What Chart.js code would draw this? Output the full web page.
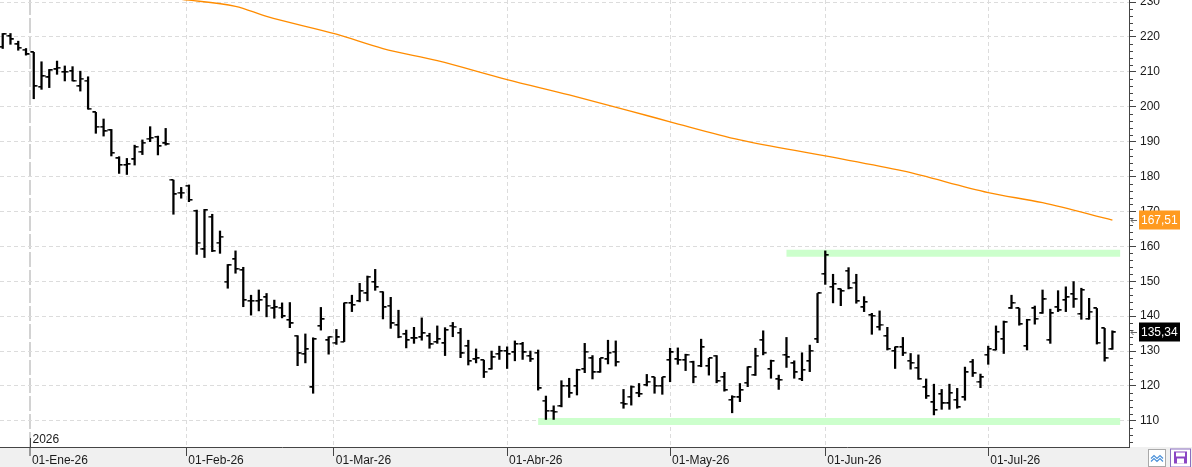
<!DOCTYPE html>
<html>
<head>
<meta charset="utf-8" />
<title>OHLC diario</title>
<script src="https://cdn.jsdelivr.net/npm/chart.js@4.4.1/dist/chart.umd.min.js"></script>
<style>
  html, body { margin: 0; padding: 0; background: #fff; }
  #wrap { position: relative; width: 1192px; height: 467px; }
</style>
</head>
<body>
<div id="wrap"><canvas id="chart"></canvas></div>
<script>
const FONT = "'Liberation Sans', Arial, sans-serif";
const meses = ['Ene', 'Feb', 'Mar', 'Abr', 'May', 'Jun', 'Jul', 'Ago', 'Sep', 'Oct', 'Nov', 'Dic'];

// sesiones: del 26-dic-25 al 24-jul-26, sin fines de semana ni festivos
const firstSession = '2025-12-26';
const lastSession = '2026-07-24';
const festivos = ['2026-01-01', '2026-01-19', '2026-02-16', '2026-04-03', '2026-05-25', '2026-06-19', '2026-07-03'];
const monthStarts = ['2026-01-01', '2026-02-01', '2026-03-01', '2026-04-01', '2026-05-01', '2026-06-01', '2026-07-01'];

const opens = [
  217.2, 220.3, 217.9, 216.4, 215.6, 205.7, 208.4, 210.7, 210.0, 210.2,
  205.9, 207.5, 198.4, 194.3, 193.3, 185.2, 183.3, 184.9, 187.1, 190.9,
  191.4, 189.5, 179.0, 175.4, 177.4, 170.2, 159.1, 168.5, 161.1, 149.9,
  156.3, 153.2, 144.4, 144.4, 145.4, 142.2, 142.4, 138.9, 134.4, 129.1,
  119.6, 137.2, 133.1, 132.4, 132.7, 143.7, 144.3, 146.5, 149.8, 147.0,
  143.0, 137.4, 134.8, 133.6, 133.9, 134.3, 132.6, 132.2, 137.3, 135.2,
  131.4, 127.6, 127.4, 124.8, 129.1, 130.0, 129.6, 132.0, 128.6, 129.5,
  115.8, 112.9, 114.2, 120.0, 120.0, 124.8, 127.9, 123.9, 127.6, 129.8,
  115.2, 116.9, 117.9, 120.3, 122.5, 120.0, 127.4, 127.6, 127.4, 126.8,
  125.7, 125.7, 128.7, 122.5, 116.0, 116.7, 120.9, 123.1, 133.1, 124.8,
  121.9, 128.9, 126.5, 121.9, 127.1, 133.4, 152.1, 148.4, 147.7, 153.0,
  149.6, 142.5, 140.3, 136.8, 134.3, 130.0, 131.1, 127.2, 125.2, 119.6,
  115.3, 117.7, 115.0, 116.0, 116.7, 126.9, 121.2, 128.9, 130.3, 133.4,
  142.2, 142.2, 131.4, 142.2, 140.8, 133.1, 142.5, 144.6, 146.3, 140.6,
  139.2, 142.2, 136.5, 130.5
];
const highs = [
  221.0, 221.0, 218.8, 216.7, 215.6, 212.9, 210.7, 213.1, 211.7, 211.5,
  210.2, 208.6, 198.4, 196.5, 193.5, 185.7, 185.2, 189.0, 190.5, 194.3,
  191.6, 193.8, 179.0, 176.9, 177.6, 170.4, 170.6, 169.2, 164.4, 154.8,
  158.7, 154.0, 146.0, 147.5, 146.5, 144.6, 143.8, 143.9, 134.4, 134.9,
  133.8, 142.5, 134.1, 136.2, 143.8, 146.0, 149.4, 151.5, 153.4, 147.0,
  145.4, 141.7, 136.0, 136.8, 139.5, 135.1, 137.2, 136.7, 138.2, 136.5,
  133.1, 130.6, 127.4, 130.0, 131.4, 131.2, 132.9, 132.5, 130.0, 130.3,
  117.1, 114.3, 121.5, 122.2, 124.8, 132.2, 128.7, 127.9, 133.1, 132.9,
  119.0, 120.0, 120.7, 123.3, 122.5, 122.5, 130.8, 130.9, 129.1, 127.1,
  133.4, 127.9, 128.7, 123.9, 117.2, 120.7, 125.5, 130.8, 135.8, 127.4,
  123.1, 133.9, 127.2, 129.5, 131.7, 146.5, 158.7, 152.0, 147.8, 153.9,
  152.0, 145.6, 140.8, 141.5, 136.8, 131.2, 133.9, 129.3, 128.9, 122.0,
  120.5, 119.0, 120.5, 119.3, 125.4, 127.6, 123.4, 131.4, 137.2, 138.6,
  146.0, 142.2, 139.1, 142.9, 147.5, 142.0, 147.3, 148.4, 149.9, 148.0,
  145.1, 142.2, 136.5, 135.8
];
const lows = [
  216.7, 217.9, 216.2, 214.8, 202.3, 205.0, 205.5, 209.3, 207.4, 207.4,
  204.5, 199.3, 192.4, 191.6, 185.9, 180.9, 180.6, 183.3, 186.3, 190.0,
  186.2, 189.0, 169.2, 173.8, 172.8, 157.7, 156.8, 158.5, 158.0, 148.0,
  152.3, 142.7, 140.3, 141.5, 139.8, 139.4, 139.5, 136.7, 125.8, 126.6,
  117.9, 136.0, 129.1, 131.9, 132.7, 141.3, 144.1, 144.4, 147.4, 139.2,
  136.5, 133.8, 130.9, 132.2, 133.1, 130.8, 132.2, 128.7, 134.1, 128.1,
  126.0, 126.6, 122.4, 124.8, 127.6, 125.0, 127.2, 127.6, 127.0, 118.8,
  110.4, 110.4, 114.0, 116.7, 117.4, 123.8, 122.0, 123.9, 126.3, 125.7,
  113.6, 114.5, 116.9, 120.0, 117.9, 117.6, 121.2, 126.2, 124.4, 120.9,
  125.5, 123.1, 120.9, 118.5, 112.3, 115.5, 119.8, 123.0, 128.9, 122.2,
  119.0, 125.3, 122.2, 121.5, 124.1, 132.4, 149.1, 143.8, 143.0, 147.8,
  143.7, 141.3, 134.8, 136.0, 130.3, 125.0, 128.7, 124.8, 121.9, 116.4,
  111.7, 113.3, 113.3, 113.6, 115.9, 122.7, 119.5, 126.2, 130.3, 129.3,
  142.2, 137.4, 130.3, 137.7, 140.8, 132.2, 141.3, 141.3, 142.5, 139.1,
  139.1, 132.0, 127.1, 130.5
];
const closes = [
  220.8, 219.3, 216.9, 215.0, 205.9, 208.8, 210.5, 211.2, 210.0, 207.4,
  208.1, 199.5, 194.3, 193.0, 186.8, 183.3, 183.5, 188.5, 189.7, 191.1,
  188.7, 189.2, 174.9, 175.4, 173.3, 161.1, 170.4, 158.7, 162.8, 154.6,
  153.5, 144.6, 144.4, 144.6, 143.0, 142.5, 139.9, 137.9, 129.3, 130.5,
  133.4, 139.1, 134.1, 133.9, 143.8, 143.2, 147.2, 151.3, 148.3, 142.5,
  137.9, 134.1, 133.1, 133.6, 135.1, 131.9, 133.4, 136.0, 137.0, 129.3,
  127.1, 127.9, 124.1, 128.2, 130.0, 129.1, 132.0, 129.6, 127.7, 119.3,
  112.9, 112.6, 120.0, 117.9, 124.6, 129.8, 123.9, 127.9, 129.5, 126.8,
  114.7, 119.8, 117.7, 121.2, 120.0, 122.5, 129.6, 127.4, 128.9, 122.6,
  131.1, 127.9, 121.4, 118.8, 116.9, 118.8, 125.3, 128.7, 129.5, 127.1,
  121.7, 128.2, 123.9, 124.6, 130.1, 146.5, 157.5, 149.2, 147.2, 148.0,
  144.3, 144.0, 140.1, 137.6, 130.6, 131.1, 129.5, 126.6, 122.0, 117.1,
  113.1, 115.0, 118.0, 113.9, 123.9, 123.6, 122.5, 130.6, 135.5, 138.2,
  143.8, 137.7, 138.9, 139.2, 144.8, 140.8, 141.7, 145.4, 144.8, 147.5,
  141.3, 132.4, 127.9, 135.34
];

const maBar = [23, 30, 34, 43, 49, 56, 65, 73, 83, 86, 95, 106, 116, 127, 134, 143];
const maValue = [230.8, 228.8, 225.9, 220.8, 216.7, 213.2, 207.8, 203.4, 197.5, 195.7, 190.5, 185.9, 181.6, 175.4, 172.5, 167.51];

// resistencia y soporte (nivel, sesión inicial, sesión final)
const bandLevel = [158.0, 109.8];
const bandFrom = [101, 69];
const bandTo = [144, 144];

function buildSessions() {
  const out = [];
  const d = new Date(firstSession + 'T12:00:00Z');
  const end = new Date(lastSession + 'T12:00:00Z');
  while (d <= end) {
    const iso = d.toISOString().slice(0, 10);
    const wd = d.getUTCDay();
    if (wd !== 0 && wd !== 6 && !festivos.includes(iso)) out.push(iso);
    d.setUTCDate(d.getUTCDate() + 1);
  }
  return out;
}
const dates = buildSessions();
const ts = s => Date.parse(s + 'T12:00:00Z');

// posición de cada primero de mes entre sesiones
const monthPos = monthStarts.map(m => {
  const t = ts(m);
  const next = dates.findIndex(s => ts(s) >= t);
  const tn = ts(dates[next]);
  if (tn === t) return next;
  const tp = ts(dates[next - 1]);
  return next - 1 + (t - tp) / (tn - tp);
});
const monthLabels = monthStarts.map(m => {
  const [yy, mm] = m.split('-');
  return '01-' + meses[+mm - 1] + '-' + yy.slice(2);
});
const isYearStart = i => monthStarts[i] && monthStarts[i].slice(5, 7) === '01';

function tickImg(side) {
  const c = document.createElement('canvas');
  c.width = 8; c.height = 2;
  const g = c.getContext('2d');
  g.fillStyle = '#000';
  g.fillRect(side === 'left' ? 0.5 : 4, 0, 3.5, 1.6);
  return c;
}

const fmt = v => v.toFixed(2).replace('.', ',');

const extras = {
  id: 'extras',
  beforeDraw(chart) {
    const { ctx, width, height, chartArea } = chart;
    ctx.save();
    ctx.fillStyle = '#fff';
    ctx.fillRect(0, 0, width, height);
    ctx.fillStyle = '#f0f0f0';
    ctx.fillRect(0, chartArea.bottom, width, height - chartArea.bottom);
    ctx.restore();
  },
  afterDraw(chart) {
    const { ctx, chartArea, scales: { x, y } } = chart;
    ctx.save();
    // marcas menores del eje de precios
    ctx.strokeStyle = '#444';
    ctx.lineWidth = 1;
    y.ticks.forEach(t => {
      if (t.value % 10 === 0) return;
      const py = Math.round(y.getPixelForValue(t.value)) + 0.5;
      ctx.beginPath();
      ctx.moveTo(chartArea.right, py);
      ctx.lineTo(chartArea.right + 4, py);
      ctx.stroke();
    });

    // año
    ctx.font = '12px ' + FONT;
    monthPos.forEach((p, i) => {
      if (!isYearStart(i)) return;
      const px = Math.round(x.getPixelForValue(p)) + 0.5;
      ctx.strokeStyle = '#444';
      ctx.beginPath();
      ctx.moveTo(px, chartArea.bottom - 9);
      ctx.lineTo(px, chartArea.bottom);
      ctx.stroke();
      ctx.fillStyle = '#1a1a1a';
      ctx.textBaseline = 'alphabetic';
      ctx.textAlign = 'left';
      ctx.fillText(monthStarts[i].slice(0, 4), px + 2, chartArea.bottom - 4);
    });

    // etiquetas de último valor
    function badge(val, bg) {
      const py = y.getPixelForValue(val);
      const bx = chartArea.right + 10;
      const txt = fmt(val);
      const w = Math.max(39, Math.ceil(ctx.measureText(txt).width) + 4);
      ctx.fillStyle = bg;
      ctx.fillRect(bx, Math.round(py) - 9.5, w, 19);
      ctx.fillStyle = '#fff';
      ctx.textBaseline = 'middle';
      ctx.textAlign = 'left';
      ctx.fillText(txt, bx + 2, py + 0.5);
      ctx.strokeStyle = '#666';
      ctx.lineWidth = 1;
      const ay = Math.round(py) + 0.5;
      ctx.beginPath();
      ctx.moveTo(chartArea.right + 8, ay);
      ctx.lineTo(chartArea.right + 2, ay);
      ctx.moveTo(chartArea.right + 4.5, ay - 2.5);
      ctx.lineTo(chartArea.right + 2, ay);
      ctx.lineTo(chartArea.right + 4.5, ay + 2.5);
      ctx.stroke();
    }
    badge(maValue[maValue.length - 1], '#ff9a1f');
    badge(closes[closes.length - 1], '#000');

    // botones de la esquina
    const by = chartArea.bottom + 2.5;
    ctx.fillStyle = '#fff';
    ctx.strokeStyle = '#a9a9a9';
    ctx.fillRect(1148.5, by, 17, 17);
    ctx.strokeRect(1148.5, by, 17, 17);
    ctx.strokeStyle = '#4a90d9';
    ctx.lineWidth = 1.2;
    ctx.beginPath();
    ctx.moveTo(1151, by + 9); ctx.lineTo(1154, by + 6); ctx.lineTo(1157, by + 9); ctx.lineTo(1160, by + 6); ctx.lineTo(1163, by + 9);
    ctx.moveTo(1151, by + 12); ctx.lineTo(1154, by + 9); ctx.lineTo(1157, by + 12); ctx.lineTo(1160, by + 9); ctx.lineTo(1163, by + 12);
    ctx.stroke();
    ctx.lineWidth = 1;
    ctx.fillStyle = '#fff';
    ctx.strokeStyle = '#8a6fc0';
    ctx.fillRect(1170.5, by - 0.5, 20, 18);
    ctx.strokeRect(1170.5, by - 0.5, 20, 18);
    ctx.fillStyle = '#8b45c4';
    ctx.fillRect(1174, by + 2, 13, 12);
    ctx.fillStyle = '#fff';
    ctx.fillRect(1176, by + 3, 9, 4);
    ctx.fillRect(1177, by + 9, 7, 5);
    ctx.restore();
  }
};

const axisFont = { family: FONT, size: 12 };

new Chart(document.getElementById('chart'), {
  type: 'bar',
  data: {
    datasets: [
      ...bandLevel.map((lv, k) => ({
        type: 'line',
        data: [{ x: bandFrom[k], y: lv }, { x: bandTo[k], y: lv }],
        borderColor: '#ccffcc',
        borderWidth: 7,
        borderCapStyle: 'butt',
        pointRadius: 0,
        order: 5
      })),
      {
        type: 'line',
        data: maBar.map((b, i) => ({ x: b, y: maValue[i] })),
        borderColor: '#ff8c00',
        borderWidth: 1.3,
        pointRadius: 0,
        cubicInterpolationMode: 'monotone',
        order: 4
      },
      {
        type: 'bar',
        data: highs.map((h, i) => ({ x: i, y: [lows[i], h] })),
        backgroundColor: '#000',
        borderWidth: 0,
        barThickness: 1.6,
        grouped: false,
        order: 3
      },
      {
        type: 'line',
        showLine: false,
        data: opens.map((v, i) => ({ x: i, y: v })),
        pointStyle: tickImg('left'),
        pointRadius: 3,
        order: 2
      },
      {
        type: 'line',
        showLine: false,
        data: closes.map((v, i) => ({ x: i, y: v })),
        pointStyle: tickImg('right'),
        pointRadius: 3,
        order: 1
      }
    ]
  },
  options: {
    responsive: true,
    maintainAspectRatio: false,
    animation: false,
    events: [],
    layout: { padding: 0, autoPadding: false },
    plugins: { legend: { display: false }, tooltip: { enabled: false } },
    scales: {
      x: {
        type: 'linear',
        bounds: 'data',
        min: -0.35,
        max: 145.14,
        offset: false,
        afterBuildTicks: s => { s.ticks = monthPos.map(v => ({ value: v })); },
        afterFit: s => { s.height = 20; s.paddingLeft = 0; s.paddingRight = 0; },
        ticks: {
          autoSkip: false,
          maxRotation: 0,
          align: 'start',
          labelOffset: 2,
          padding: -3,
          color: '#1a1a1a',
          font: axisFont,
          callback: (v, i) => monthLabels[i]
        },
        grid: {
          offset: false,
          color: c => c.type === 'tick' && isYearStart(c.index) ? '#d2d2d2' : '#dcdcdc',
          lineWidth: c => c.type === 'tick' && isYearStart(c.index) ? 2 : 1,
          tickColor: '#444',
          tickWidth: 1,
          tickLength: 9
        },
        border: {
          color: '#444',
          width: 1,
          dash: c => c.type === 'tick' ? (isYearStart(c.index) ? [15, 3] : [4, 3]) : []
        }
      },
      y: {
        position: 'right',
        bounds: 'data',
        min: 102.5,
        max: 230.6,
        afterBuildTicks: s => {
          const t = [];
          for (let v = Math.ceil(s.min / 2) * 2; v <= s.max; v += 2) t.push({ value: v });
          s.ticks = t;
        },
        afterFit: s => { s.width = 63; s.paddingTop = 0; s.paddingBottom = 0; },
        ticks: {
          autoSkip: false,
          padding: 4,
          color: '#1a1a1a',
          font: axisFont,
          callback: v => (v % 10 === 0 ? String(v) : '')
        },
        grid: {
          color: c => c.type === 'tick' && c.tick.value % 10 === 0 ? '#dcdcdc' : 'rgba(0,0,0,0)',
          tickColor: c => c.type === 'tick' && c.tick.value % 10 === 0 ? '#444' : 'rgba(0,0,0,0)',
          tickWidth: 1,
          tickLength: 7
        },
        border: {
          color: '#444',
          width: 1,
          dash: c => c.type === 'tick' ? [4, 3] : []
        }
      }
    }
  },
  plugins: [extras]
});
</script>
</body>
</html>
